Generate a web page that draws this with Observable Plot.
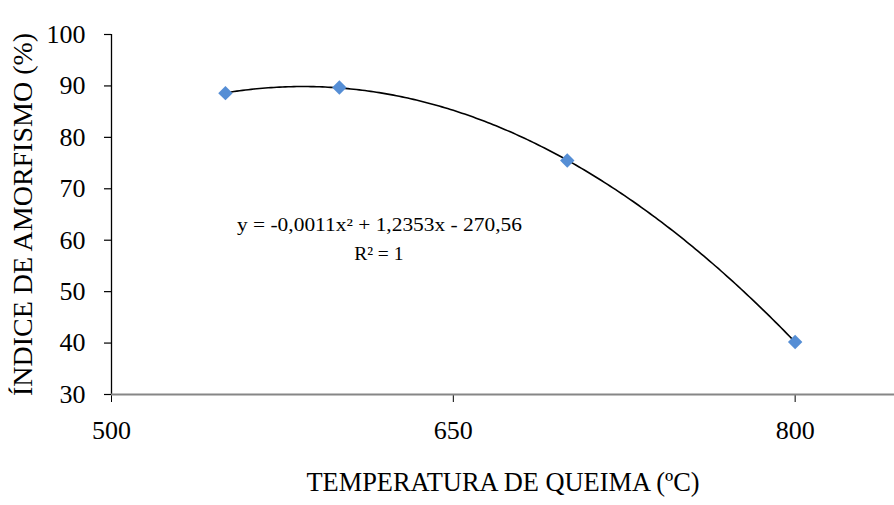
<!DOCTYPE html>
<html>
<head>
<meta charset="utf-8">
<script src="https://cdn.jsdelivr.net/npm/d3@7"></script>
<script src="https://cdn.jsdelivr.net/npm/@observablehq/plot@0.6"></script>
<style>
  html, body { margin: 0; padding: 0; background: #fff; }
</style>
</head>
<body>
<div id="chart"></div>
<script>
const temperatures = [550, 600, 700, 800];
const amorphism = [88.6, 89.7, 75.5, 40.2];
const xTicks = [500, 650, 800];
const yTicks = [30, 40, 50, 60, 70, 80, 90, 100];
const equationText = "y = -0,0011x\u00B2 + 1,2353x - 270,56";
const r2Text = "R\u00B2 = 1";
const xTitle = "TEMPERATURA DE QUEIMA (\u00BAC)";
const yTitle = "\u00CDNDICE DE AMORFISMO (%)";

const points = temperatures.map((t, i) => ({t, v: amorphism[i]}));

// Least-squares quadratic trendline (like a spreadsheet polynomial trendline)
function quadFit(xs, ys) {
  const n = xs.length;
  const xm = d3.mean(xs);
  const u = xs.map(x => x - xm);
  let S = [[0,0,0],[0,0,0],[0,0,0]], b = [0,0,0];
  for (let i = 0; i < n; i++) {
    const p = [1, u[i], u[i]*u[i]];
    for (let r = 0; r < 3; r++) {
      b[r] += p[r]*ys[i];
      for (let c = 0; c < 3; c++) S[r][c] += p[r]*p[c];
    }
  }
  for (let k = 0; k < 3; k++) {
    for (let r = k+1; r < 3; r++) {
      const f = S[r][k]/S[k][k];
      for (let c = k; c < 3; c++) S[r][c] -= f*S[k][c];
      b[r] -= f*b[k];
    }
  }
  const a = [0,0,0];
  for (let r = 2; r >= 0; r--) {
    let s = b[r];
    for (let c = r+1; c < 3; c++) s -= S[r][c]*a[c];
    a[r] = s/S[r][r];
  }
  return x => a[0] + a[1]*(x-xm) + a[2]*(x-xm)*(x-xm);
}
const f = quadFit(temperatures, amorphism);
const tMin = d3.min(temperatures), tMax = d3.max(temperatures);
const trend = d3.range(tMin, tMax + 0.001, (tMax - tMin)/200).map(t => ({t, v: f(t)}));

const chart = Plot.plot({
  width: 894,
  height: 505,
  marginLeft: 111,
  marginTop: 34,
  marginBottom: 111,
  marginRight: 0,
  style: {fontFamily: "'Liberation Serif', 'Times New Roman', serif", fontSize: "26px", background: "#fff", color: "#000", overflow: "visible"},
  x: {domain: [500, 843.6], ticks: xTicks},
  y: {domain: [30, 100], ticks: yTicks},
  marks: [
    // y tick marks (short rules left of the axis)
    Plot.ruleY(yTicks, {y: d => d, x1: () => 500, x2: () => 500, insetLeft: -7, stroke: "#000", strokeWidth: 1.2}),
    // y tick labels only
    Plot.axisY({ticks: yTicks, tickSize: 0, tickPadding: 3, dx: -23, label: null}),
    Plot.axisY({ticks: [], tickSize: 0, label: yTitle, labelAnchor: "center", labelOffset: 99, labelArrow: "none", fontSize: 28}),
    Plot.axisX({ticks: xTicks, tickSize: 8, tickPadding: 18, stroke: "#000", strokeOpacity: 1, label: null}),
    Plot.axisX({ticks: [], tickSize: 0, label: xTitle, labelAnchor: "center", labelOffset: 96, labelArrow: "none", fontSize: 26.4}),
    Plot.ruleX([500], {stroke: "#000", strokeWidth: 1.3}),
    Plot.ruleY([30], {stroke: "#868686", strokeWidth: 2}),
    Plot.line(trend, {x: "t", y: "v", stroke: "#000", strokeWidth: 1.6}),
    Plot.dot(points, {x: "t", y: "v", symbol: "diamond2", r: 6.5, fill: "#558ED5", stroke: "none"}),
    Plot.text([equationText], {
      x: () => 617.6, y: () => 61.7, text: d => d, lineAnchor: "bottom",
      fontSize: 18.5, textAnchor: "middle", fill: "#000", className: "eqline"
    }),
    Plot.text([r2Text], {
      x: () => 617.3, y: () => 56.06, text: d => d, lineAnchor: "bottom",
      fontSize: 19.5, textAnchor: "middle", fill: "#000"
    })
  ]
});
document.getElementById("chart").appendChild(chart);
// stretch the equation to the reference's width
d3.select(chart).selectAll("g.eqline text").attr("textLength", 285).attr("lengthAdjust", "spacingAndGlyphs");
</script>
</body>
</html>
